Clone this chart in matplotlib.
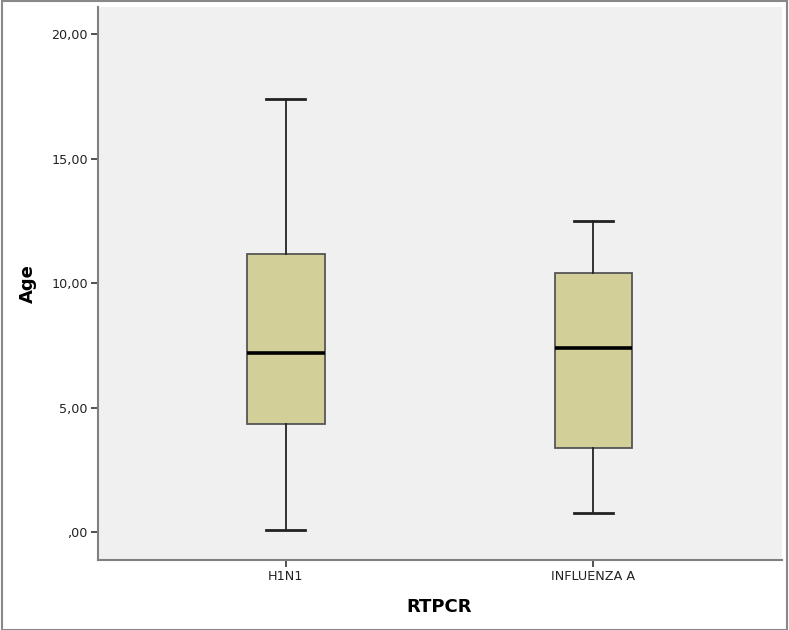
import matplotlib.pyplot as plt
from matplotlib.patches import Rectangle

# Box statistics
groups = ['H1N1', 'INFLUENZA A']
whislo = [0.08, 0.76]
q1 = [4.34, 3.39]
med = [7.19, 7.41]
q3 = [11.18, 10.41]
whishi = [17.40, 12.50]

yticks = [0, 5, 10, 15, 20]
ytick_labels = [',00', '5,00', '10,00', '15,00', '20,00']

stats = []
for i, g in enumerate(groups):
    stats.append(dict(label=g, whislo=whislo[i], q1=q1[i], med=med[i],
                      q3=q3[i], whishi=whishi[i], fliers=[]))

fig = plt.figure(figsize=(7.89, 6.3), dpi=100)
ax = fig.add_axes([0.1236, 0.1111, 0.867, 0.8783])
ax.set_facecolor('#f0f0f0')

ax.bxp(stats, positions=[1, 2], widths=0.252, patch_artist=True,
       showfliers=False,
       boxprops=dict(facecolor='#d3cf98', edgecolor='#555555', linewidth=1.3),
       medianprops=dict(color='black', linewidth=2.6),
       whiskerprops=dict(color='#222222', linewidth=1.3),
       capprops=dict(color='#222222', linewidth=2.0),
       capwidths=0.126)

ax.set_xlim(0.388, 2.612)
ax.set_ylim(-1.11, 21.1)
ax.set_yticks(yticks)
ax.set_yticklabels(ytick_labels)
ax.set_xticks([1, 2])
ax.set_xticklabels(groups)

for s in ['top', 'right']:
    ax.spines[s].set_visible(False)
for s in ['left', 'bottom']:
    ax.spines[s].set_color('#808080')
    ax.spines[s].set_linewidth(1.5)

ax.tick_params(axis='both', direction='out', length=5, width=1.2,
               color='#333333', labelsize=9.2, labelcolor='#222222', pad=2)

ax.set_ylabel('Age', fontsize=13, fontweight='bold', labelpad=10)
ax.set_xlabel('RTPCR', fontsize=13, fontweight='bold', labelpad=11)

# outer frame around the figure
fig.patches.append(Rectangle((0.003, 0.0), 0.994, 0.998, transform=fig.transFigure,
                             fill=False, edgecolor='#888888', linewidth=1.5))

fig.savefig('out.png', dpi=100)
